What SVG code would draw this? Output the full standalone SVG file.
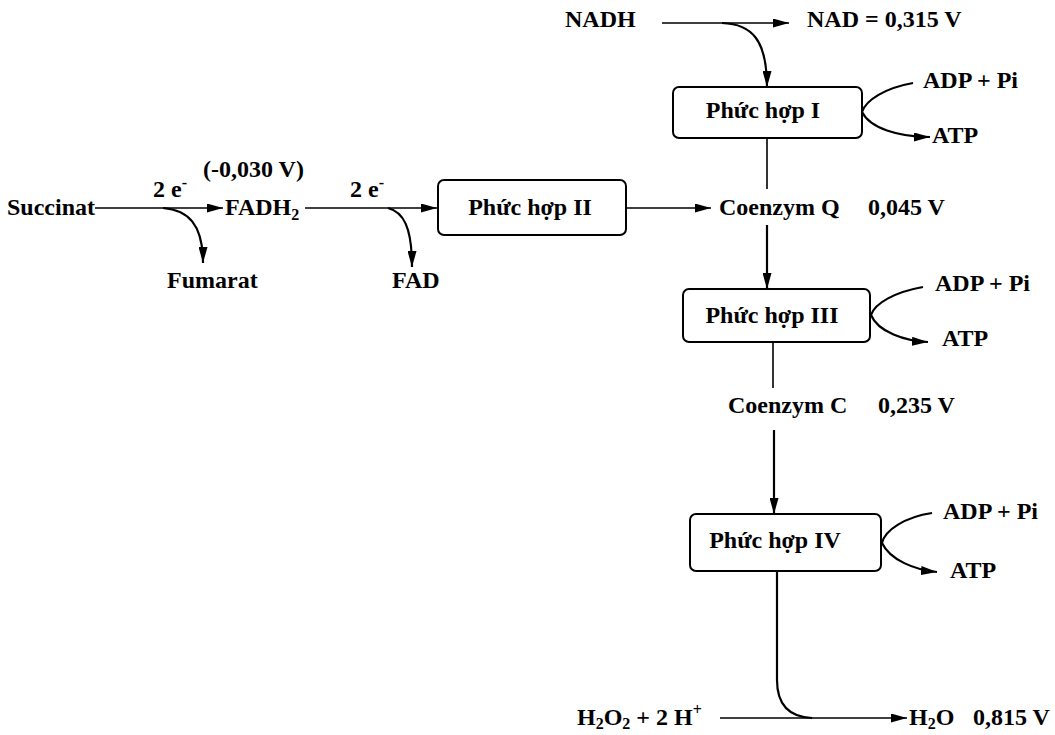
<svg xmlns="http://www.w3.org/2000/svg" width="1055" height="735" viewBox="0 0 1055 735">
<defs>
<style>
text{font-family:"Liberation Serif","Times New Roman",serif;font-weight:bold;font-size:24px;fill:#000}
.sub{font-size:16px}
.box{fill:#fff;stroke:#000;stroke-width:2}
.ln{fill:none;stroke:#000;stroke-width:1.6}
.cv{fill:none;stroke:#000;stroke-width:2.2}
</style>
<marker id="arr" viewBox="0 0 16 9" refX="16" refY="4.5" markerWidth="16" markerHeight="9" markerUnits="userSpaceOnUse" orient="auto">
<path d="M0,0 L16,4.5 L0,9 z" fill="#000"/>
</marker>
</defs>
<rect width="1055" height="735" fill="#fff"/>

<g id="connectors">
<path class="ln" d="M95 208 H223" marker-end="url(#arr)"/>
<path class="cv" d="M163 208 C188 210 203 224 203 263" marker-end="url(#arr)"/>
<path class="ln" d="M305 208 H437" marker-end="url(#arr)"/>
<path class="cv" d="M388 208 C403 212 412 226 412 267" marker-end="url(#arr)"/>
<path class="ln" d="M626 208 H711" marker-end="url(#arr)"/>
<path class="ln" d="M662 23 H789" marker-end="url(#arr)"/>
<path class="cv" d="M722 23 C752 24 767 40 767 87" marker-end="url(#arr)"/>
<path class="cv" d="M913 83 C885 88 866 100 862 112 C870 128 898 137 930 137" marker-end="url(#arr)"/>
<path class="ln" d="M767 138 V189"/>
<path class="cv" d="M767 225 V289" marker-end="url(#arr)"/>
<path class="cv" d="M923 287 C895 292 875 303 871 315 C878 332 905 341 928 342" marker-end="url(#arr)"/>
<path class="ln" d="M773 342 V388"/>
<path class="cv" d="M774 430 V514" marker-end="url(#arr)"/>
<path class="cv" d="M932 513 C905 517 885 530 882 543 C890 560 915 570 937 572" marker-end="url(#arr)"/>
<path class="cv" d="M777 571 V680 C777 705 790 717 812 718"/>
<path class="ln" d="M720 718 H907" marker-end="url(#arr)"/>
</g>

<g id="succinat"><text x="7" y="215">Succinat</text></g>
<g id="e1"><text x="153" y="197">2 e<tspan class="sub" dy="-9">-</tspan></text></g>
<g id="v030"><text x="203" y="177">(-0,030 V)</text></g>
<g id="fadh2"><text x="225" y="215">FADH<tspan class="sub" dy="5">2</tspan></text></g>
<g id="fumarat"><text x="167" y="288">Fumarat</text></g>
<g id="e2"><text x="350" y="197">2 e<tspan class="sub" dy="-9">-</tspan></text></g>
<g id="fad"><text x="392" y="288">FAD</text></g>

<g id="box2"><rect class="box" x="438" y="180" width="188" height="55" rx="6"/><text x="530" y="215" text-anchor="middle">Phức hợp II</text></g>
<g id="coq"><text x="719" y="215">Coenzym Q</text><text x="868" y="215">0,045 V</text></g>

<g id="nadh"><text x="565" y="27">NADH</text></g>
<g id="nad"><text x="807" y="27">NAD = 0,315 V</text></g>
<g id="box1"><rect class="box" x="673" y="87" width="189" height="51" rx="6"/><text x="763" y="118" text-anchor="middle">Phức hợp I</text></g>
<g id="adp1"><text x="923" y="88">ADP + Pi</text></g>
<g id="atp1"><text x="932" y="143">ATP</text></g>

<g id="box3"><rect class="box" x="683" y="289" width="187" height="53" rx="6"/><text x="772" y="323" text-anchor="middle">Phức hợp III</text></g>
<g id="adp3"><text x="935" y="291">ADP + Pi</text></g>
<g id="atp3"><text x="942" y="346">ATP</text></g>

<g id="coc"><text x="728" y="413">Coenzym C</text><text x="878" y="413">0,235 V</text></g>

<g id="box4"><rect class="box" x="690" y="514" width="191" height="57" rx="6"/><text x="775" y="548" text-anchor="middle">Phức hợp IV</text></g>
<g id="adp4"><text x="943" y="519">ADP + Pi</text></g>
<g id="atp4"><text x="950" y="578">ATP</text></g>

<g id="h2o2"><text x="577" y="725">H<tspan class="sub" dy="4">2</tspan><tspan dy="-4">O</tspan><tspan class="sub" dy="4">2</tspan><tspan dy="-4"> + 2 H</tspan><tspan class="sub" dy="-10">+</tspan></text></g>
<g id="h2o"><text x="909" y="725">H<tspan class="sub" dy="4">2</tspan><tspan dy="-4">O</tspan></text><text x="973" y="725">0,815 V</text></g>
</svg>
